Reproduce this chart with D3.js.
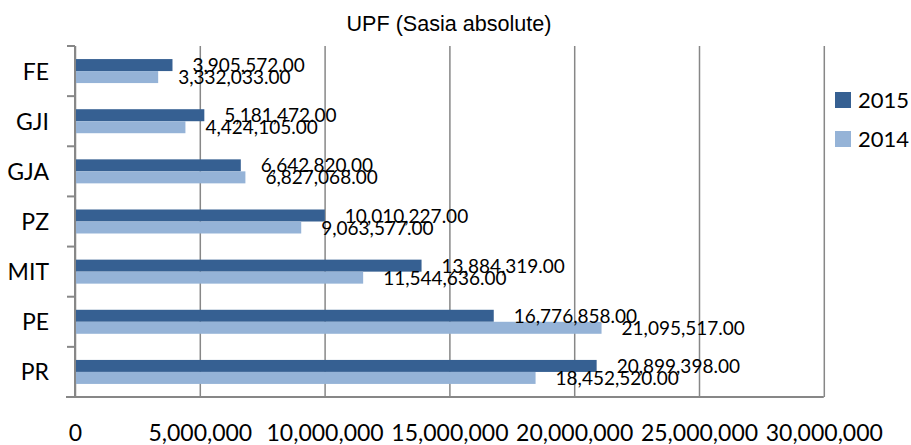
<!DOCTYPE html>
<html lang="en">
<head>
    <meta charset="utf-8" />
    <script src="https://d3js.org/d3.v7.min.js"></script>
    <style>
        body { margin: 0; background: #fff; }
        svg { display: block; }
    </style>
</head>
<body>
    <script>
        const w = 911;
        const h = 445;

        // data
        const categories = ["FE", "GJI", "GJA", "PZ", "MIT", "PE", "PR"];
        const values2015 = [3905572, 5181472, 6642820, 10010227, 13884319, 16776858, 20899398];
        const values2014 = [3332033, 4424105, 6827068, 9063577, 11544636, 21095517, 18452520];
        const seriesNames = ["2015", "2014"];
        const xTicks = [0, 5000000, 10000000, 15000000, 20000000, 25000000, 30000000];

        const colors = { "2015": "#366092", "2014": "#95b3d7" };
        const gridColor = "#878787";
        const calibri = "Lato, 'Open Sans', sans-serif";

        const plotLeft = 75, plotRight = 823.8, plotTop = 46, plotBottom = 397;
        const barH = 12;

        const xScale = d3.scaleLinear().domain([0, 30000000]).range([plotLeft, plotRight]);
        const yScale = d3.scaleBand().domain(categories).range([plotTop, plotBottom]).padding(0);

        const svg = d3.select("body")
            .append("svg")
            .attr("width", w)
            .attr("height", h);

        // title
        svg.append("text")
            .attr("x", 449)
            .attr("y", 31)
            .attr("text-anchor", "middle")
            .style("font-family", "'Liberation Sans', Arial, sans-serif")
            .style("font-size", "22px")
            .attr("textLength", 205)
            .attr("lengthAdjust", "spacingAndGlyphs")
            .text("UPF (Sasia absolute)");

        // x axis + vertical gridlines
        const xAxis = d3.axisBottom(xScale)
            .tickValues(xTicks)
            .tickFormat(d3.format(","))
            .tickSize(-(plotBottom - plotTop))
            .tickSizeOuter(0);

        const gx = svg.append("g")
            .attr("transform", "translate(0," + plotBottom + ")")
            .call(xAxis);
        gx.select(".domain").remove();
        gx.selectAll(".tick line")
            .attr("stroke", gridColor)
            .attr("stroke-width", 1.5);
        gx.selectAll(".tick text")
            .attr("y", 44)
            .attr("dy", 0)
            .attr("fill", "#000")
            .style("font-family", calibri)
            .style("font-size", "23px");

        // bars
        const rows = categories.map((c, i) => ({ cat: c, v2015: values2015[i], v2014: values2014[i] }));
        const groups = svg.selectAll("g.row")
            .data(rows)
            .enter()
            .append("g")
            .attr("class", "row")
            .attr("transform", d => "translate(0," + (yScale(d.cat) + yScale.bandwidth() / 2) + ")");

        groups.append("rect")
            .attr("x", xScale(0))
            .attr("y", -barH)
            .attr("width", d => xScale(d.v2015) - xScale(0))
            .attr("height", barH)
            .attr("fill", colors["2015"]);

        groups.append("rect")
            .attr("x", xScale(0))
            .attr("y", 0)
            .attr("width", d => xScale(d.v2014) - xScale(0))
            .attr("height", barH)
            .attr("fill", colors["2014"]);

        const fmt = d3.format(",.2f");
        groups.append("text")
            .attr("x", d => xScale(d.v2015) + 20)
            .attr("y", 1)
            .style("font-family", calibri)
            .style("font-size", "19px")
            .text(d => fmt(d.v2015));
        groups.append("text")
            .attr("x", d => xScale(d.v2014) + 20)
            .attr("y", barH + 1)
            .style("font-family", calibri)
            .style("font-size", "19px")
            .text(d => fmt(d.v2014));

        // y axis line, bottom axis line and category ticks
        svg.append("line")
            .attr("x1", plotLeft).attr("x2", plotLeft)
            .attr("y1", plotTop).attr("y2", plotBottom)
            .attr("stroke", gridColor).attr("stroke-width", 2);
        svg.append("line")
            .attr("x1", plotLeft - 9).attr("x2", plotRight)
            .attr("y1", plotBottom).attr("y2", plotBottom)
            .attr("stroke", gridColor).attr("stroke-width", 2);
        const bounds = categories.map(c => yScale(c));
        svg.selectAll("line.ytick")
            .data(bounds)
            .enter()
            .append("line")
            .attr("class", "ytick")
            .attr("x1", plotLeft - 8).attr("x2", plotLeft)
            .attr("y1", d => d).attr("y2", d => d)
            .attr("stroke", gridColor).attr("stroke-width", 2);

        svg.selectAll("text.cat")
            .data(categories)
            .enter()
            .append("text")
            .attr("class", "cat")
            .attr("x", 49)
            .attr("y", d => yScale(d) + yScale.bandwidth() / 2 + 8.5)
            .attr("text-anchor", "end")
            .style("font-family", calibri)
            .style("font-size", "23px")
            .text(d => d);

        // legend
        const legend = svg.selectAll("g.legend")
            .data(seriesNames)
            .enter()
            .append("g")
            .attr("class", "legend")
            .attr("transform", (d, i) => "translate(835," + (92 + i * 39) + ")");
        legend.append("rect")
            .attr("width", 16)
            .attr("height", 16)
            .attr("fill", d => colors[d]);
        legend.append("text")
            .attr("x", 23)
            .attr("y", 16)
            .style("font-family", calibri)
            .style("font-size", "22px")
            .text(d => d);
    </script>
</body>
</html>
